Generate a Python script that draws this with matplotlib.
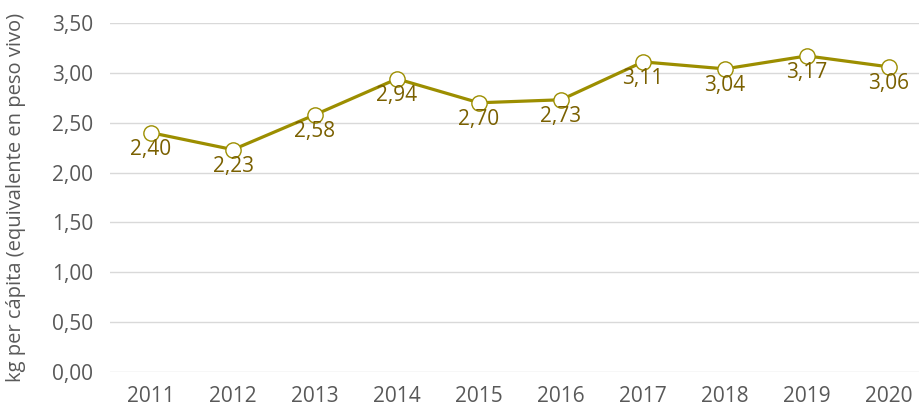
import matplotlib
matplotlib.use("Agg")
import matplotlib.pyplot as plt

years = ["2011", "2012", "2013", "2014", "2015", "2016", "2017", "2018", "2019", "2020"]
values = [2.40, 2.23, 2.58, 2.94, 2.70, 2.73, 3.11, 3.04, 3.17, 3.06]
y_ticks = [0.0, 0.5, 1.0, 1.5, 2.0, 2.5, 3.0, 3.5]

plt.rcParams["font.family"] = ["Open Sans", "DejaVu Sans"]

line_color = "#9c8e00"
label_color = "#7a6000"
text_gray = "#595959"

fig = plt.figure(figsize=(9.19, 4.12), dpi=100)
ax = fig.add_axes([110 / 919, 40 / 412, 820 / 919, 349 / 412])

x = list(range(len(years)))
ax.plot(x, values, color=line_color, linewidth=2.3, marker="o", markersize=11,
        markerfacecolor="white", markeredgecolor=line_color, markeredgewidth=1.0,
        zorder=3)

for xi, v in zip(x, values):
    ax.annotate(f"{v:.2f}".replace(".", ","), (xi, v), xytext=(0, -12),
                textcoords="offset points", ha="center", va="center",
                fontsize=15, color=label_color, zorder=4)

ax.set_xlim(-0.5, len(years) - 0.5)
ax.set_ylim(0, 3.5)
ax.set_xticks(x)
ax.set_xticklabels(years)
ax.set_yticks(y_ticks)
ax.set_yticklabels([f"{t:.2f}".replace(".", ",") for t in y_ticks])
ax.tick_params(axis="both", length=0, labelsize=15, colors=text_gray)
ax.tick_params(axis="x", pad=10)
ax.tick_params(axis="y", pad=12)
ax.grid(axis="y", color="#d9d9d9", linewidth=1)
ax.set_axisbelow(True)
for s in ax.spines.values():
    s.set_visible(False)

ax.set_ylabel("kg per cápita (equivalente en peso vivo)", fontsize=14.5, color=text_gray)
ax.yaxis.set_label_coords(-84 / 820, 0.5)

fig.savefig("out.png", dpi=100)
